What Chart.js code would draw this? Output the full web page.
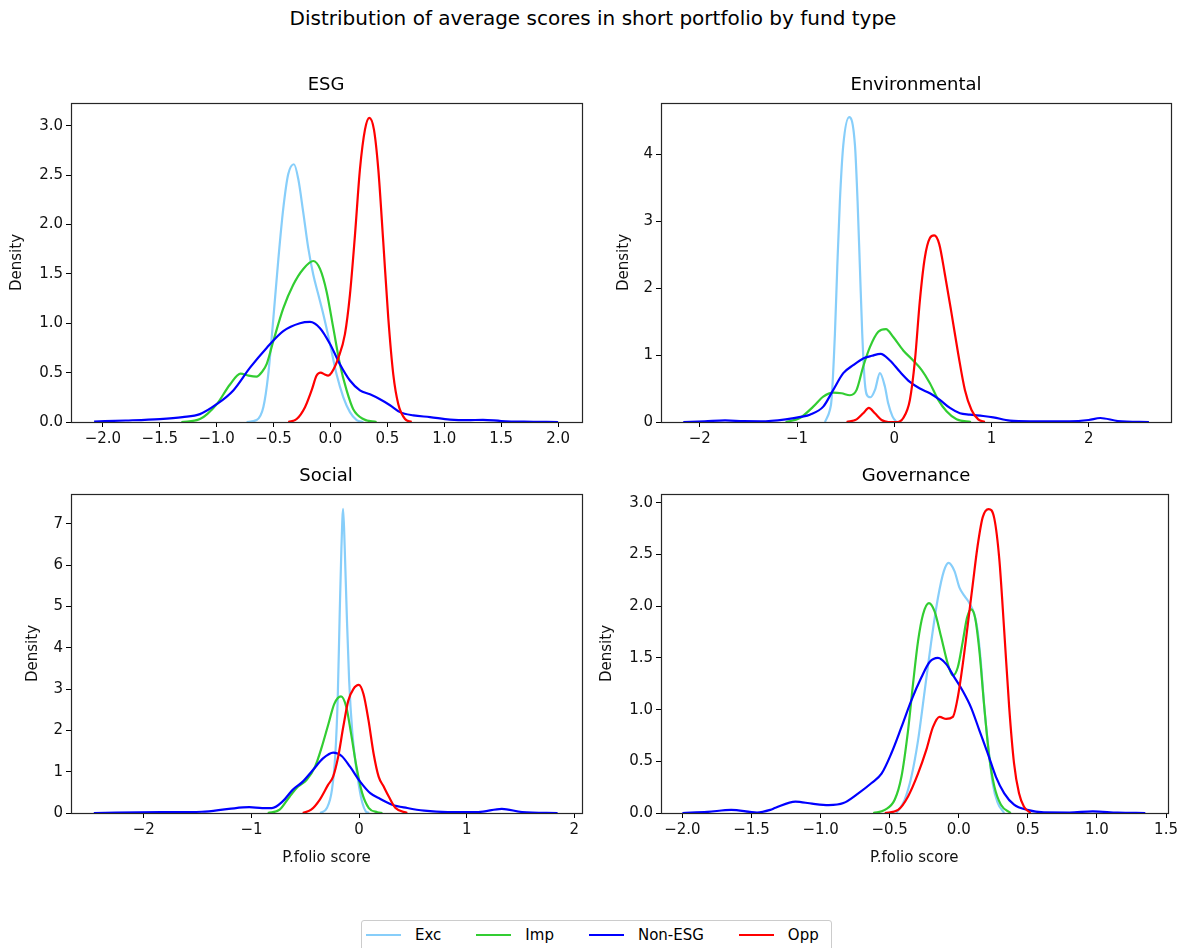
<!DOCTYPE html>
<html>
<head>
<meta charset="utf-8">
<script src="https://cdn.jsdelivr.net/npm/chart.js@4.4.1/dist/chart.umd.min.js"></script>
<style>
  body { margin: 0; background: #fff; font-family: "DejaVu Sans", sans-serif; }
  #fig { position: relative; width: 1186px; height: 948px; overflow: hidden; background: #fff; }
  .panel { position: absolute; }
  .ttl { position: absolute; color: #000; white-space: nowrap; transform: translate(-50%, -50%); z-index: 2; }
  #legend {
    position: absolute; left: 361px; top: 920px; width: 471px; height: 40px;
    border: 1px solid #cccccc; border-radius: 3px; box-sizing: border-box;
    display: flex; align-items: flex-start; padding: 4px 0 0 4px; font-size: 15px; color: #000;
  }
  .item { display: flex; align-items: center; height: 20px; margin-right: 35px; white-space: nowrap; flex-shrink: 0; }
  .item span.ln { display: inline-block; width: 35px; height: 2px; margin-right: 14px; }
</style>
</head>
<body>
<div id="fig">
  <div class="ttl" style="left:593px;top:18px;font-size:20px;">Distribution of average scores in short portfolio by fund type</div>
  <div class="ttl" style="left:326px;top:83px;font-size:18px;">ESG</div>
  <div class="ttl" style="left:916px;top:83px;font-size:18px;">Environmental</div>
  <div class="ttl" style="left:326px;top:474px;font-size:18px;">Social</div>
  <div class="ttl" style="left:916px;top:474px;font-size:18px;">Governance</div>

  <div class="panel" style="left:0px;top:91px;width:592px;height:387px;"><canvas id="c-esg"></canvas></div>
  <div class="panel" style="left:590px;top:91px;width:591px;height:387px;"><canvas id="c-env"></canvas></div>
  <div class="panel" style="left:0px;top:482px;width:592px;height:387px;"><canvas id="c-soc"></canvas></div>
  <div class="panel" style="left:590px;top:482px;width:591px;height:387px;"><canvas id="c-gov"></canvas></div>

  <div id="legend"></div>
</div>

<script>
// fund types and their colours
const seriesNames = ['Exc', 'Imp', 'Non-ESG', 'Opp'];
const seriesColors = ['#87cefa', '#32cd32', '#0000ff', '#ff0000'];

// ESG panel  [score, density]
const esgExc = [[-0.737,0],[-0.649,0.02],[-0.59,0.15],[-0.547,0.48],[-0.502,1.05],[-0.458,1.65],[-0.415,2.16],[-0.371,2.51],[-0.321,2.61],[-0.283,2.46],[-0.239,2.12],[-0.195,1.76],[-0.151,1.49],[-0.107,1.29],[-0.063,1.09],[-0.004,0.79],[0.054,0.48],[0.113,0.25],[0.171,0.10],[0.23,0.02],[0.288,0]];
const esgImp = [[-1.31,0],[-1.147,0.03],[-1.0,0.18],[-0.883,0.38],[-0.79,0.49],[-0.72,0.47],[-0.65,0.46],[-0.6,0.51],[-0.561,0.585],[-0.502,0.82],[-0.415,1.15],[-0.327,1.39],[-0.239,1.55],[-0.151,1.63],[-0.092,1.55],[-0.034,1.32],[0.025,0.95],[0.083,0.585],[0.142,0.32],[0.2,0.13],[0.288,0.03],[0.405,0]];
const esgNon = [[-2.077,0.005],[-1.8,0.015],[-1.5,0.03],[-1.3,0.05],[-1.147,0.08],[-1.0,0.18],[-0.854,0.32],[-0.707,0.55],[-0.561,0.75],[-0.415,0.92],[-0.268,1.0],[-0.18,1.013],[-0.092,0.95],[-0.004,0.79],[0.083,0.585],[0.171,0.42],[0.259,0.32],[0.347,0.28],[0.435,0.23],[0.523,0.17],[0.611,0.10],[0.728,0.067],[0.874,0.05],[1.05,0.025],[1.2,0.018],[1.34,0.022],[1.5,0.01],[1.7,0.003],[2.0,0]];
const esgOpp = [[-0.371,0],[-0.297,0.03],[-0.224,0.15],[-0.166,0.32],[-0.122,0.47],[-0.086,0.50],[-0.05,0.48],[-0.02,0.47],[0.01,0.50],[0.069,0.65],[0.127,0.89],[0.171,1.29],[0.215,1.89],[0.259,2.56],[0.303,2.96],[0.341,3.08],[0.382,2.96],[0.42,2.56],[0.464,1.82],[0.508,1.05],[0.552,0.48],[0.596,0.18],[0.655,0.03],[0.713,0]];

// Environmental panel
const envExc = [[-0.713,0],[-0.662,0.18],[-0.645,0.33],[-0.61,1.32],[-0.586,2.31],[-0.559,3.3],[-0.524,4.14],[-0.463,4.56],[-0.404,4.14],[-0.377,3.3],[-0.353,2.31],[-0.329,1.32],[-0.302,0.58],[-0.267,0.38],[-0.243,0.37],[-0.198,0.48],[-0.147,0.73],[-0.096,0.53],[-0.062,0.28],[-0.017,0.08],[0.024,0]];
const envImp = [[-1.117,0],[-0.97,0.06],[-0.833,0.23],[-0.73,0.38],[-0.627,0.44],[-0.542,0.43],[-0.456,0.40],[-0.387,0.48],[-0.319,0.83],[-0.25,1.12],[-0.164,1.35],[-0.085,1.39],[-0.01,1.27],[0.093,1.07],[0.195,0.92],[0.281,0.78],[0.367,0.58],[0.453,0.33],[0.538,0.16],[0.641,0.04],[0.79,0]];
const envNon = [[-2.17,0],[-1.95,0.01],[-1.74,0.024],[-1.55,0.012],[-1.37,0.01],[-1.117,0.04],[-0.95,0.08],[-0.868,0.11],[-0.73,0.23],[-0.627,0.48],[-0.524,0.73],[-0.422,0.85],[-0.319,0.95],[-0.23,0.99],[-0.14,1.02],[-0.044,0.92],[0.059,0.75],[0.161,0.60],[0.264,0.50],[0.367,0.43],[0.47,0.33],[0.573,0.21],[0.676,0.13],[0.778,0.11],[0.915,0.09],[1.018,0.07],[1.19,0.02],[1.4,0.01],[1.8,0.01],[2.0,0.03],[2.12,0.06],[2.3,0.015],[2.62,0]];
const envOpp = [[-0.49,0],[-0.387,0.04],[-0.319,0.13],[-0.261,0.21],[-0.199,0.13],[-0.13,0.03],[-0.06,0],[0.03,0],[0.093,0.06],[0.161,0.33],[0.213,0.92],[0.264,1.82],[0.315,2.46],[0.367,2.75],[0.411,2.79],[0.463,2.66],[0.521,2.21],[0.59,1.62],[0.658,1.02],[0.727,0.48],[0.795,0.18],[0.864,0.04],[0.932,0]];

// Social panel
const socExc = [[-0.361,0],[-0.299,0.12],[-0.252,0.56],[-0.22,1.44],[-0.198,2.8],[-0.18,4.8],[-0.164,6.4],[-0.148,7.36],[-0.133,6.4],[-0.114,4.8],[-0.092,3.2],[-0.064,2.0],[-0.032,1.2],[0.0,0.64],[0.031,0.24],[0.062,0.04],[0.094,0]];
const socImp = [[-0.848,0],[-0.738,0.08],[-0.644,0.4],[-0.566,0.64],[-0.488,0.8],[-0.409,1.12],[-0.346,1.6],[-0.284,2.16],[-0.23,2.64],[-0.168,2.82],[-0.118,2.56],[-0.074,1.92],[-0.024,1.12],[0.029,0.48],[0.091,0.12],[0.17,0.02],[0.217,0]];
const socNon = [[-2.465,0],[-1.84,0.02],[-1.46,0.03],[-1.21,0.1],[-1.02,0.14],[-0.9,0.12],[-0.81,0.12],[-0.71,0.28],[-0.617,0.56],[-0.523,0.76],[-0.429,1.04],[-0.335,1.32],[-0.24,1.46],[-0.162,1.38],[-0.084,1.12],[0.01,0.76],[0.104,0.48],[0.198,0.34],[0.307,0.2],[0.448,0.12],[0.605,0.056],[0.824,0.024],[1.107,0.024],[1.327,0.1],[1.515,0.024],[1.845,0]];
const socOpp = [[-0.523,0],[-0.445,0.08],[-0.366,0.32],[-0.288,0.68],[-0.241,0.88],[-0.194,1.36],[-0.147,2.08],[-0.1,2.72],[-0.053,3.0],[-0.003,3.1],[0.041,2.88],[0.088,2.24],[0.135,1.44],[0.182,0.88],[0.229,0.64],[0.276,0.4],[0.339,0.12],[0.448,0]];

// Governance panel
const govExc = [[-0.451,0],[-0.391,0.13],[-0.343,0.35],[-0.295,0.70],[-0.247,1.18],[-0.199,1.66],[-0.151,2.08],[-0.108,2.34],[-0.074,2.42],[-0.031,2.34],[0.005,2.18],[0.041,2.10],[0.077,2.03],[0.113,1.92],[0.137,1.76],[0.161,1.44],[0.185,1.02],[0.216,0.61],[0.245,0.29],[0.281,0.10],[0.329,0]];
const govImp = [[-0.619,0],[-0.535,0.03],[-0.463,0.13],[-0.415,0.35],[-0.367,0.80],[-0.331,1.25],[-0.295,1.66],[-0.259,1.92],[-0.216,2.03],[-0.175,1.95],[-0.127,1.70],[-0.079,1.44],[-0.043,1.33],[-0.007,1.41],[0.029,1.66],[0.06,1.89],[0.089,1.97],[0.118,1.89],[0.149,1.57],[0.185,1.02],[0.221,0.54],[0.257,0.26],[0.305,0.08],[0.376,0]];
const govNon = [[-2.0,0],[-1.82,0.01],[-1.647,0.03],[-1.46,0.005],[-1.364,0.03],[-1.326,0.05],[-1.182,0.11],[-1.062,0.09],[-0.942,0.077],[-0.835,0.096],[-0.727,0.19],[-0.631,0.29],[-0.559,0.38],[-0.487,0.58],[-0.415,0.83],[-0.343,1.09],[-0.271,1.31],[-0.211,1.46],[-0.151,1.50],[-0.091,1.44],[-0.031,1.31],[0.029,1.18],[0.089,1.02],[0.149,0.80],[0.209,0.58],[0.269,0.35],[0.329,0.19],[0.4,0.08],[0.496,0.03],[0.616,0.006],[0.8,0.005],[0.97,0.015],[1.15,0.003],[1.35,0]];
const govOpp = [[-0.535,0],[-0.439,0.03],[-0.367,0.16],[-0.295,0.38],[-0.235,0.61],[-0.187,0.83],[-0.139,0.93],[-0.091,0.91],[-0.043,0.93],[-0.007,1.12],[0.029,1.44],[0.065,1.82],[0.101,2.21],[0.137,2.59],[0.173,2.86],[0.216,2.94],[0.257,2.85],[0.293,2.46],[0.329,1.76],[0.365,1.02],[0.4,0.48],[0.436,0.19],[0.472,0.06],[0.52,0]];

// tick values
const esgXTicks = [-2, -1.5, -1, -0.5, 0, 0.5, 1, 1.5, 2];
const esgYTicks = [0, 0.5, 1, 1.5, 2, 2.5, 3];
const envXTicks = [-2, -1, 0, 1, 2];
const envYTicks = [0, 1, 2, 3, 4];
const socXTicks = [-2, -1, 0, 1, 2];
const socYTicks = [0, 1, 2, 3, 4, 5, 6, 7];
const govXTicks = [-2, -1.5, -1, -0.5, 0, 0.5, 1, 1.5];
const govYTicks = [0, 0.5, 1, 1.5, 2, 2.5, 3];

Chart.defaults.font.family = "'DejaVu Sans', sans-serif";
Chart.defaults.font.size = 15;
Chart.defaults.color = '#111';

// full box around the plot area, like matplotlib spines
const framePlugin = {
    id: 'frame',
    afterDatasetsDraw(chart) {
        const { ctx, chartArea: a } = chart;
        ctx.save();
        ctx.strokeStyle = '#262626';
        ctx.lineWidth = 1.2;
        ctx.strokeRect(Math.round(a.left) + 0.5, Math.round(a.top) + 0.5, Math.round(a.width), Math.round(a.height));
        ctx.restore();
    }
};

function fmt(v, dec) {
    const s = Math.abs(v).toFixed(dec);
    return v < 0 ? '\u2212' + s : s;
}

function makePanel(id, series, xr, yMax, xTicks, yTicks, dec, yTitlePad, xTitle) {
    const datasets = series.map((pts, i) => ({
        label: seriesNames[i],
        data: pts.map(p => ({ x: p[0], y: p[1] })),
        borderColor: seriesColors[i],
        backgroundColor: seriesColors[i],
        borderWidth: 2.2,
        pointRadius: 0,
        cubicInterpolationMode: 'monotone',
        fill: false,
        order: 3 - i
    }));

    new Chart(document.getElementById(id), {
        type: 'line',
        data: { datasets },
        plugins: [framePlugin],
        options: {
            responsive: true,
            maintainAspectRatio: false,
            animation: false,
            layout: { padding: { top: 10, right: 10, left: 0, bottom: 0 } },
            plugins: { legend: { display: false }, tooltip: { enabled: false } },
            scales: {
                x: {
                    type: 'linear',
                    min: xr[0], max: xr[1],
                    afterBuildTicks: s => { s.ticks = xTicks.map(v => ({ value: v })); },
                    afterFit: s => { s.height = 56; },
                    ticks: { callback: v => fmt(v, dec[0]), padding: 3, maxRotation: 0, autoSkip: false },
                    grid: { drawOnChartArea: false, drawTicks: true, tickLength: 5, color: '#000' },
                    border: { display: false },
                    title: { display: !!xTitle, text: xTitle, padding: { top: 0, bottom: 2 }, color: '#111' }
                },
                y: {
                    type: 'linear',
                    min: 0, max: yMax,
                    afterBuildTicks: s => { s.ticks = yTicks.map(v => ({ value: v })); },
                    afterFit: s => { s.width = 71; },
                    ticks: { callback: v => fmt(v, dec[1]), padding: 3, autoSkip: false },
                    grid: { drawOnChartArea: false, drawTicks: true, tickLength: 5, color: '#000' },
                    border: { display: false },
                    title: { display: true, text: 'Density', padding: { top: yTitlePad, bottom: 0 }, color: '#111' }
                }
            }
        }
    });
}

makePanel('c-esg', [esgExc, esgImp, esgNon, esgOpp], [-2.28, 2.21], 3.23, esgXTicks, esgYTicks, [1, 1], 8, '');
makePanel('c-env', [envExc, envImp, envNon, envOpp], [-2.399, 2.847], 4.77, envXTicks, envYTicks, [0, 0], 25, '');
makePanel('c-soc', [socExc, socImp, socNon, socOpp], [-2.677, 2.072], 7.72, socXTicks, socYTicks, [0, 0], 24, 'P.folio score');
makePanel('c-gov', [govExc, govImp, govNon, govOpp], [-2.155, 1.511], 3.086, govXTicks, govYTicks, [1, 1], 8, 'P.folio score');

// shared legend under the grid
const legend = document.getElementById('legend');
seriesNames.forEach((name, i) => {
    const item = document.createElement('div');
    item.className = 'item';
    item.innerHTML = `<span class="ln" style="background:${seriesColors[i]}"></span><span>${name}</span>`;
    legend.appendChild(item);
});
</script>
</body>
</html>
